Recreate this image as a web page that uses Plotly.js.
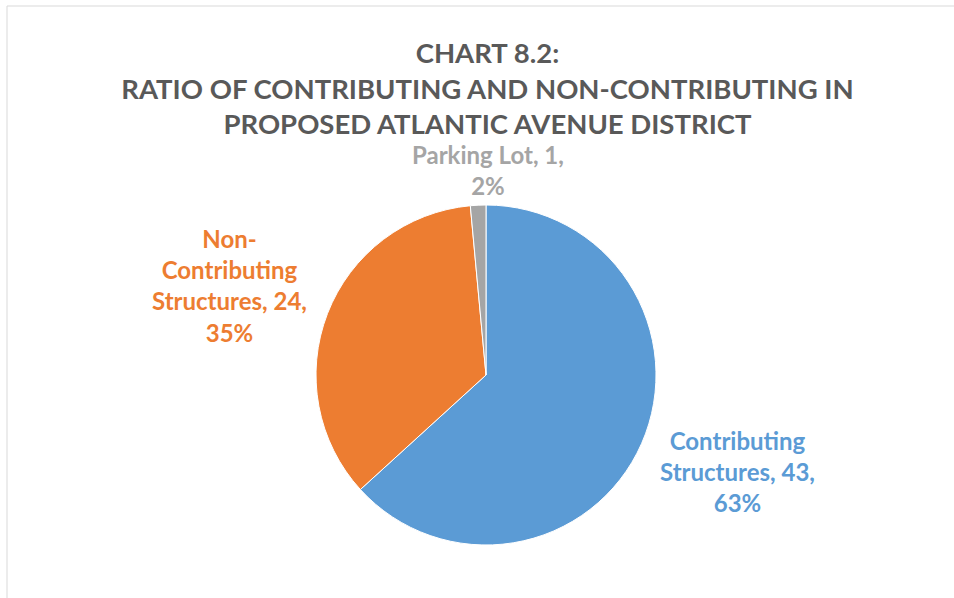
<!DOCTYPE html>
<html>
<head>
<meta charset="utf-8">
<script src="https://cdn.plot.ly/plotly-3.0.1.min.js"></script>
<style>html,body{margin:0;padding:0;background:#fff;}#chart{width:954px;height:598px;}</style>
</head>
<body>
<div id="chart"></div>
<script>
var categories = ['Contributing Structures', 'Non-Contributing Structures', 'Parking Lot'];
var labelLines = ['Contributing<br>Structures', 'Non-<br>Contributing<br>Structures', 'Parking Lot'];
var values = [43, 24, 1];
var colors = ['#5B9BD5', '#ED7D31', '#A5A5A5'];
var titleLines = ['CHART 8.2:', 'RATIO OF CONTRIBUTING AND NON-CONTRIBUTING IN', 'PROPOSED ATLANTIC AVENUE DISTRICT'];

// Percentages rounded so they sum to 100 (largest remainder), as the source chart does
var total = values.reduce(function(a, b) { return a + b; }, 0);
var raw = values.map(function(v) { return v / total * 100; });
var floors = raw.map(Math.floor);
var left = 100 - floors.reduce(function(a, b) { return a + b; }, 0);
var order = raw.map(function(r, i) { return i; }).sort(function(a, b) {
  return (raw[b] - floors[b]) - (raw[a] - floors[a]);
});
for (var k = 0; k < left; k++) { floors[order[k]] += 1; }
var pcts = floors.map(function(p) { return p + '%'; });

var labelPos = [
  {x: 0.773, y: 0.212},
  {x: 0.241, y: 0.523},
  {x: 0.5115, y: 0.716}
];

var annotations = categories.map(function(c, i) {
  return {
    xref: 'paper', yref: 'paper', x: labelPos[i].x, y: labelPos[i].y,
    xanchor: 'center', yanchor: 'middle', align: 'center', showarrow: false,
    text: labelLines[i] + ', ' + values[i] + ',<br>' + pcts[i],
    font: {family: 'Lato, sans-serif', size: 24, color: colors[i], weight: 'bold'}
  };
});

var trace = {
  type: 'pie',
  labels: categories,
  values: values,
  sort: false,
  direction: 'clockwise',
  rotation: 0,
  textinfo: 'none',
  hoverinfo: 'label+value+percent',
  marker: {colors: colors, line: {color: '#ffffff', width: 1}},
  domain: {x: [316 / 954, 656 / 954], y: [53 / 598, 393 / 598]},
  showlegend: false
};

var layout = {
  width: 954, height: 598,
  margin: {l: 0, r: 0, t: 0, b: 0},
  paper_bgcolor: '#ffffff',
  title: {
    text: '<b>' + titleLines.join('<br>') + '</b>',
    font: {family: 'Lato, sans-serif', size: 27.5, color: '#595959'},
    x: 0.511, xanchor: 'center', y: 0.895, yanchor: 'top'
  },
  annotations: annotations,
  shapes: [
    {type: 'line', xref: 'paper', yref: 'paper', x0: 7 / 954, x1: 7 / 954, y0: 0, y1: 1 - 6 / 598, line: {color: '#D9D9D9', width: 1}},
    {type: 'line', xref: 'paper', yref: 'paper', x0: 7 / 954, x1: 1, y0: 1 - 6 / 598, y1: 1 - 6 / 598, line: {color: '#D9D9D9', width: 1}}
  ]
};

Plotly.newPlot('chart', [trace], layout, {displayModeBar: false, staticPlot: true});
</script>
</body>
</html>
